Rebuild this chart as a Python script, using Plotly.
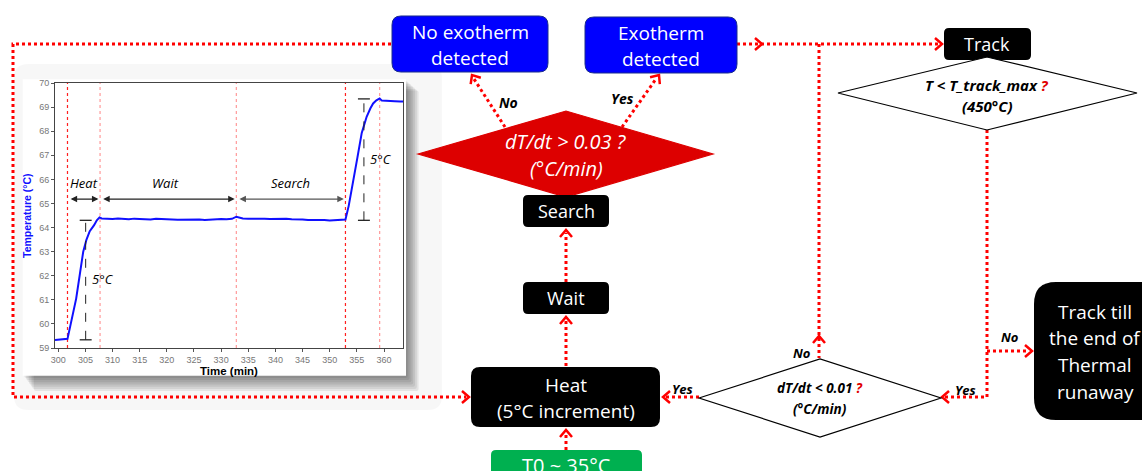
import math
import plotly.graph_objects as go

W, H = 1142, 471

# ---- inset chart data ----
time_min = [299.4, 300.5, 301.5, 301.7, 302.3, 303.3, 304.0, 304.6, 305.2, 305.8, 306.6, 307.1, 307.6, 308.0,
            309, 310, 311, 312, 313, 314, 315, 316, 317, 318, 319, 320, 321, 322, 323, 324, 325, 326,
            327, 328, 329, 330, 331, 332, 332.8, 333.5,
            334, 335, 336, 337, 338, 339, 340, 341, 342, 343, 344, 345, 346, 347, 348, 349, 350, 351, 352,
            352.9, 353.5, 354.3, 355.1, 355.9, 356.8, 357.5, 358.0, 358.6, 359.2, 359.6, 360, 361, 362, 363, 363.5]
temp_c = [59.33, 59.35, 59.36, 59.38, 60.0, 61.05, 62.1, 63.0, 63.5, 63.85, 64.1, 64.3, 64.42, 64.38,
          64.37, 64.35, 64.38, 64.36, 64.34, 64.37, 64.35, 64.36, 64.33, 64.36, 64.34, 64.35, 64.33, 64.32,
          64.33, 64.31, 64.32, 64.33, 64.31, 64.33, 64.34, 64.35, 64.34, 64.36, 64.45, 64.39,
          64.38, 64.37, 64.38, 64.36, 64.37, 64.35, 64.36, 64.34, 64.36, 64.34, 64.35, 64.33, 64.31, 64.32,
          64.30, 64.31, 64.29, 64.31, 64.32,
          64.33, 64.9, 65.85, 66.9, 67.93, 68.6, 68.95, 69.15, 69.28, 69.36, 69.27, 69.26, 69.25, 69.24, 69.23, 69.23]
phase_times = [301.7, 307.7, 332.8, 352.9, 359.2]
phase_colors = ["#ff2020", "#ff9a9a", "#ff9a9a", "#ff2020", "#ff9a9a"]
phase_names = ["Heat", "Wait", "Search"]
phase_label_x = [304.7, 319.7, 342.7]
step_span = [(305.05, 59.34, 64.30), (356.3, 64.30, 69.34)]
x_ticks = list(range(300, 361, 5))
y_ticks = list(range(59, 71))

FONT = "Open Sans"
RED = "#ff0000"


def P(x, y):
    return f"{x / W:.5f},{1 - y / H:.5f}"


def path(pts, close=False):
    s = "M" + " L".join(P(x, y) for x, y in pts)
    return s + (" Z" if close else "")


def rrect(x0, y0, x1, y1, r):
    return ("M" + P(x0 + r, y0) + " L" + P(x1 - r, y0) + " Q" + P(x1, y0) + " " + P(x1, y0 + r) +
            " L" + P(x1, y1 - r) + " Q" + P(x1, y1) + " " + P(x1 - r, y1) +
            " L" + P(x0 + r, y1) + " Q" + P(x0, y1) + " " + P(x0, y1 - r) +
            " L" + P(x0, y0 + r) + " Q" + P(x0, y0) + " " + P(x0 + r, y0) + " Z")


fig = go.Figure()
fig.add_trace(go.Scatter(x=time_min, y=temp_c, mode="lines",
                         line=dict(color="#1010ff", width=2), hoverinfo="skip"))

shapes = []
annots = []

# ---- card behind the inset chart ----
shapes.append(dict(type="path", xref="paper", yref="paper", layer="below",
                   path=rrect(14, 64, 442, 410, 14), fillcolor="rgba(0,0,0,0.03)", line=dict(width=0)))
for k in range(1, 8):
    shapes.append(dict(type="path", xref="paper", yref="paper", layer="below",
                       path=rrect(22.7 + 1.6 * k, 79.3 + 1.6 * k, 406 + 1.8 * k, 375.7 + 2.2 * k, 2),
                       fillcolor="rgba(0,0,0,0.075)", line=dict(width=0)))
shapes.append(dict(type="rect", xref="paper", yref="paper", layer="below",
                   x0=22.7 / W, x1=406 / W, y0=1 - 375.7 / H, y1=1 - 79.3 / H,
                   fillcolor="white", line=dict(width=0)))

# phase lines in the inset
for t, c in zip(phase_times, phase_colors):
    shapes.append(dict(type="line", xref="x", yref="y", x0=t, x1=t, y0=59, y1=70,
                       line=dict(color=c, width=1.2, dash="dot"), layer="below"))

# double arrows between phases
for i, name in enumerate(phase_names):
    annots.append(dict(xref="x", yref="y", axref="x", ayref="y", x=phase_times[i + 1] - 0.3, y=65.18,
                       ax=phase_times[i] + 0.3, ay=65.18, text="", showarrow=True, arrowhead=2,
                       arrowside="end+start", arrowsize=1, arrowwidth=1.3,
                       arrowcolor="#222" if i < 2 else "#555"))
    annots.append(dict(xref="x", yref="y", x=phase_label_x[i], y=65.87, text=f"<i>{name}</i>",
                       showarrow=False, font=dict(family=FONT, size=13, color="black")))

# 5 degC step markers
for (t, lo, hi), lx, ly in zip(step_span, [308.3, 359.4], [61.85, 66.83]):
    shapes.append(dict(type="line", xref="x", yref="y", x0=t, x1=t, y0=lo, y1=hi,
                       line=dict(color="#222", width=1, dash="dash")))
    for v in (lo, hi):
        shapes.append(dict(type="line", xref="x", yref="y", x0=t - 1.1, x1=t + 1.1, y0=v, y1=v,
                           line=dict(color="#222", width=1.3)))
    annots.append(dict(xref="x", yref="y", x=lx, y=ly, text="<i>5°C</i>", showarrow=False,
                       font=dict(family=FONT, size=13, color="black")))

annots.append(dict(xref="paper", yref="paper", x=229 / W, y=1 - 370.5 / H, text="<b>Time (min)</b>",
                   showarrow=False, xanchor="center", yanchor="middle",
                   font=dict(family="Liberation Sans", size=11.5, color="black")))
annots.append(dict(xref="paper", yref="paper", x=27 / W, y=1 - 216 / H, text="<b>Temperature (°C)</b>",
                   showarrow=False, textangle=-90, xanchor="center", yanchor="middle",
                   font=dict(family="Liberation Sans", size=10.5, color="#1010ff")))


# ---- flowchart connectors ----
def dotted(pts):
    shapes.append(dict(type="path", xref="paper", yref="paper", path=path(pts),
                       line=dict(color=RED, width=3, dash="dot")))


def head(tx, ty, dx, dy, L=7, hw=6):
    n = math.hypot(dx, dy)
    ux, uy = dx / n, dy / n
    px, py = -uy, ux
    pts = [(tx - L * ux + hw * px, ty - L * uy + hw * py), (tx, ty),
           (tx - L * ux - hw * px, ty - L * uy - hw * py)]
    shapes.append(dict(type="path", xref="paper", yref="paper", path=path(pts),
                       line=dict(color=RED, width=2.5)))


dotted([(391, 44), (13, 44), (13, 397), (466, 397)])
head(469, 397, 1, 0)
dotted([(505, 127), (474, 79)])
head(472, 75, -33, -52)
dotted([(622, 127), (656, 79)])
head(659, 75, 37, -52)
dotted([(737, 44), (938, 44)])
head(762, 44, 1, 0)
head(942, 44, 1, 0)
dotted([(819, 44), (819, 358)])
head(819, 336, 0, -1)
dotted([(987, 130), (987, 397), (945, 397)])
head(942, 397, -1, 0)
dotted([(987, 351), (1029, 351)])
head(1032, 351, 1, 0)
dotted([(699, 397), (666, 397)])
head(663, 397, -1, 0)
dotted([(566, 450), (566, 433)])
head(566, 430, 0, -1)
dotted([(566, 366), (566, 320)])
head(566, 317, 0, -1)
dotted([(566, 282), (566, 233)])
head(566, 230, 0, -1)


# ---- flowchart boxes ----
def box(x0, y0, x1, y1, r, fill, line="rgba(0,0,0,0)"):
    shapes.append(dict(type="path", xref="paper", yref="paper", path=rrect(x0, y0, x1, y1, r),
                       fillcolor=fill, line=dict(color=line, width=1)))


def diamond(l, t, r, b, cx, cy, fill, line):
    shapes.append(dict(type="path", xref="paper", yref="paper",
                       path=path([(l, cy), (cx, t), (r, cy), (cx, b)], close=True),
                       fillcolor=fill, line=dict(color=line, width=1.2)))


def txt(x, y, s, size, color="white"):
    annots.append(dict(xref="paper", yref="paper", x=x / W, y=1 - y / H, text=s, showarrow=False,
                       xanchor="center", yanchor="middle", font=dict(family=FONT, size=size, color=color)))


box(392, 16, 548, 72, 9, "#0000ff", "#1a2c8c")
txt(470, 32, "No exotherm", 19)
txt(470, 58, "detected", 19)
box(585, 17, 737, 73, 9, "#0000ff", "#1a2c8c")
txt(661, 33, "Exotherm", 19)
txt(661, 59, "detected", 19)

diamond(418, 111, 713, 197, 566, 154, "#dd0000", "#dd0000")
txt(566, 142, "<i>dT/dt &gt; 0.03 ?</i>", 20)
txt(566, 169, "<i>(°C/min)</i>", 20)

box(523, 195, 609, 227, 5, "black")
txt(566, 211, "Search", 18)
box(523, 282, 609, 314, 5, "black")
txt(566, 298, "Wait", 18)
box(471, 367, 660, 427, 9, "black")
txt(566, 385, "Heat", 19)
txt(566, 411, "(5°C increment)", 19)
box(491, 450, 642, 490, 5, "#00b050")
txt(566, 465, "T0 ~ 35°C", 20)

box(944, 28, 1031, 60, 5, "black")
txt(987, 44, "Track", 18)
diamond(838, 57, 1137, 130, 987, 93, "white", "black")
txt(987, 85, "<b><i>T &lt; T_track_max <span style='color:#e00000'>?</span></i></b>", 15, "black")
txt(987, 106, "<b><i>(450°C)</i></b>", 15, "black")

diamond(699, 359, 941, 437, 820, 398, "white", "black")
txt(820, 388, "<b><i>dT/dt &lt; 0.01 <span style='color:#e00000'>?</span></i></b>", 13.5, "black")
txt(820, 409, "<b><i>(°C/min)</i></b>", 13.5, "black")

box(1034, 282, 1165, 420, 22, "black")
for yy, line in zip([312, 338, 365, 392], ["Track till", "the end of", "Thermal", "runaway"]):
    txt(1095, yy, line, 19)

for x, y, s, sz in [(508, 103, "No", 14), (622, 99, "Yes", 14), (802, 353, "No", 13),
                    (682, 389, "Yes", 13), (965, 390, "Yes", 13), (1010, 337, "No", 13)]:
    txt(x, y, f"<b><i>{s}</i></b>", sz, "black")

axis_common = dict(tickfont=dict(family="Liberation Sans", size=9, color="#777"),
                   ticks="outside", ticklen=3, tickcolor="#555", showline=True, linecolor="#444",
                   mirror=True, showgrid=False, zeroline=False, fixedrange=True, automargin=False)

fig.update_layout(
    width=W, height=H, margin=dict(l=0, r=0, t=0, b=0, pad=0, autoexpand=False),
    paper_bgcolor="white", plot_bgcolor="rgba(0,0,0,0)", showlegend=False,
    xaxis=dict(domain=[55 / W, 403 / W], range=[299.4, 363.5], tickvals=x_ticks, **axis_common),
    yaxis=dict(domain=[1 - 348 / H, 1 - 83 / H], range=[59, 70], tickvals=y_ticks, **axis_common),
    shapes=shapes, annotations=annots,
)

# the page's default body margin would shift the figure
fig.write_html("out.html", config={"displayModeBar": False},
               post_script="document.body.style.margin='0';document.body.style.overflow='hidden';")
